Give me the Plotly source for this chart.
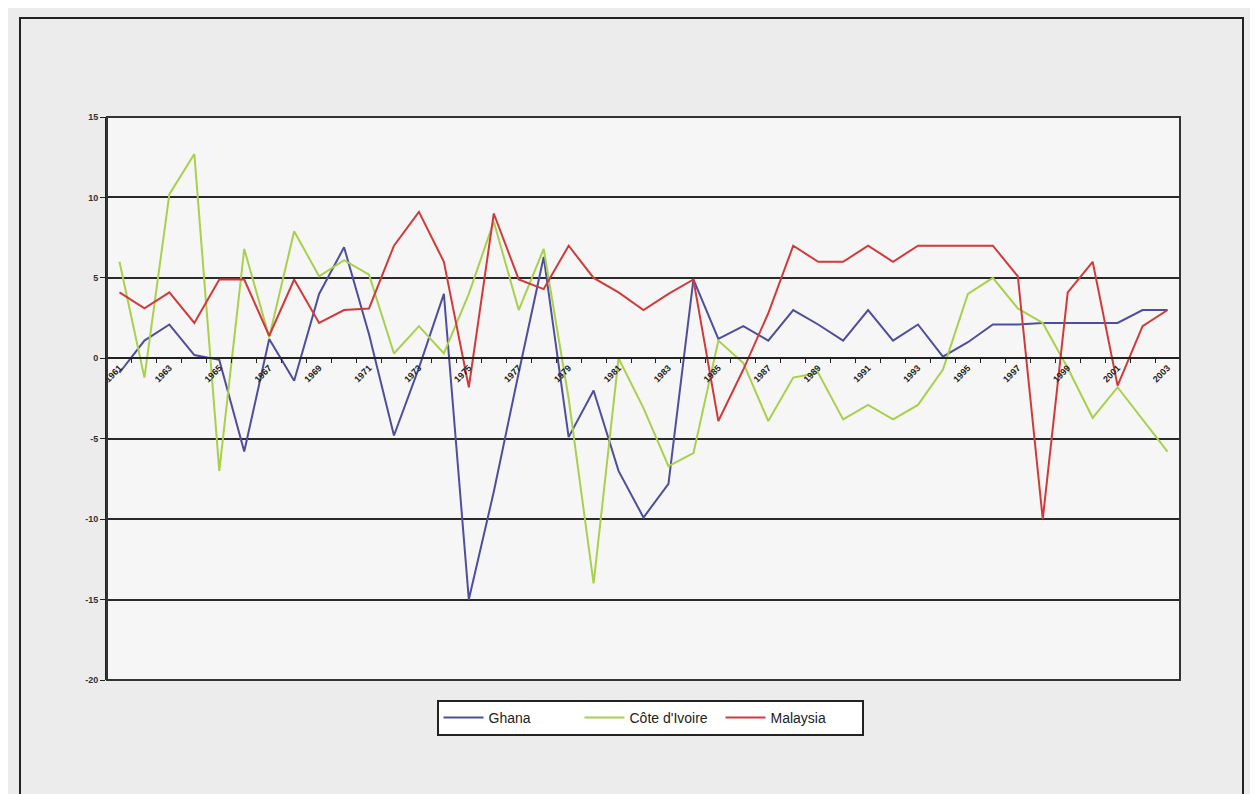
import plotly.graph_objects as go

years = list(range(1961, 2004))

ghana = [-0.9, 1.1, 2.1, 0.2, -0.1, -5.8, 1.2, -1.4, 4.0, 6.9,
         1.5, -4.8, -0.6, 4.0, -15.0, -8.3, -0.9, 6.3, -4.9, -2.0,
         -7.0, -9.9, -7.8, 4.9, 1.2, 2.0, 1.1, 3.0, 2.1, 1.1,
         3.0, 1.1, 2.1, 0.1, 1.0, 2.1, 2.1, 2.2, 2.2, 2.2,
         2.2, 3.0, 3.0]

cote_divoire = [6.0, -1.2, 10.2, 12.7, -7.0, 6.8, 1.3, 7.9, 5.1, 6.1,
                5.2, 0.3, 2.0, 0.3, 4.0, 8.5, 3.0, 6.8, -2.5, -14.0,
                0.0, -3.1, -6.7, -5.9, 1.1, -0.3, -3.9, -1.2, -0.9, -3.8,
                -2.9, -3.8, -2.9, -0.7, 4.0, 5.0, 3.1, 2.2, -0.6, -3.7,
                -1.8, -3.8, -5.8]

malaysia = [4.1, 3.1, 4.1, 2.2, 4.9, 4.9, 1.4, 4.9, 2.2, 3.0,
            3.1, 7.0, 9.1, 6.0, -1.8, 9.0, 4.9, 4.3, 7.0, 5.0,
            4.1, 3.0, 4.0, 4.9, -3.9, -0.7, 2.8, 7.0, 6.0, 6.0,
            7.0, 6.0, 7.0, 7.0, 7.0, 7.0, 5.1, -10.0, 4.1, 6.0,
            -1.7, 2.0, 3.0]

series_names = ["Ghana", "Côte d'Ivoire", "Malaysia"]
series_colors = ["#4e4e9e", "#a9d04a", "#d23a3a"]

label_years = list(range(1961, 2004, 2))
y_ticks = [15, 10, 5, 0, -5, -10, -15, -20]
y_ticktext = ["15", "10", "5", "0", "-5", "-10", "-15", "-20"]

fig = go.Figure()
for name, vals, col in zip(series_names, [ghana, cote_divoire, malaysia], series_colors):
    fig.add_trace(go.Scatter(x=years, y=vals, mode="lines", name=name,
                             line=dict(color=col, width=2)))

OFF = 8  # page body margin
W, H = 1250, 786
L, R, T, B = 107 - OFF, 1180 - OFF, 117 - OFF, 680 - OFF
pw, ph = R - L, B - T

def px(x):
    return (x - OFF - L) / pw

def py(y):
    return (B - (y - OFF)) / ph

zero_pos = (0 - (-20)) / (15 - (-20))

fig.update_layout(
    width=W, height=H,
    margin=dict(l=L, r=W - R, t=T, b=H - B),
    paper_bgcolor="#ececec",
    plot_bgcolor="#f6f6f6",
    font=dict(family="Liberation Sans, Arial, sans-serif", color="#222"),
    showlegend=True,
    legend=dict(orientation="h", x=px(650), xanchor="center", y=py(700), yanchor="top",
                bordercolor="#222", borderwidth=2, bgcolor="#ffffff",
                font=dict(size=14, color="#222"), itemwidth=40,
                entrywidth=86, entrywidthmode="pixels",
                tracegroupgap=0),
    xaxis=dict(
        range=[1960.5, 2003.5],
        tickmode="array", tickvals=label_years, ticktext=[str(y) for y in label_years],
        tickangle=-45, tickfont=dict(size=9, color="#222", weight="bold"),
        showgrid=False, zeroline=False,
        showline=True, linecolor="#222", linewidth=2,
        anchor="free", position=zero_pos,
        ticks="",
        minor=dict(tick0=1960.5, dtick=1, ticks="outside", ticklen=4,
                   tickcolor="#222", tickwidth=1, showgrid=False),
    ),
    yaxis=dict(
        range=[-20, 15],
        tickmode="array", tickvals=y_ticks, ticktext=y_ticktext,
        tickfont=dict(size=9, color="#333", weight="bold"),
        showgrid=True, gridcolor="#2a2a2a", gridwidth=2,
        zeroline=False,
        showline=True, linecolor="#222", linewidth=2,
        ticks="outside", ticklen=5, tickcolor="#222",
    ),
    shapes=[
        dict(type="rect", xref="paper", yref="paper", x0=0, x1=1, y0=0, y1=1,
             line=dict(color="#333", width=2), layer="above"),
        dict(type="rect", xref="paper", yref="paper",
             x0=px(20), x1=px(1243), y0=py(812), y1=py(18),
             line=dict(color="#222", width=2), layer="below"),
    ],
)

fig.write_html("out.html")
